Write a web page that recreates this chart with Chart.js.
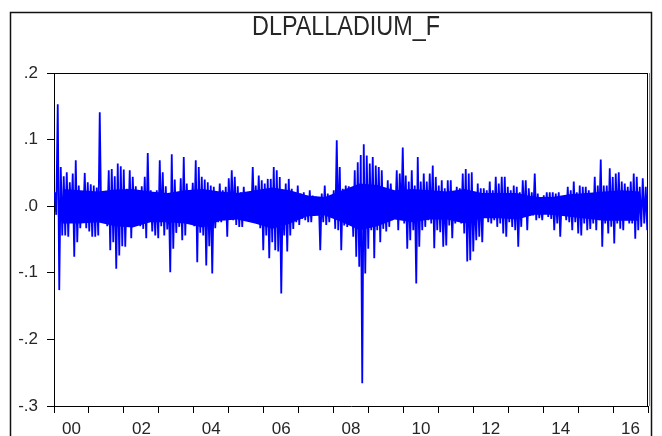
<!DOCTYPE html>
<html>
<head>
<meta charset="utf-8">
<script src="https://cdn.jsdelivr.net/npm/chart.js@4.4.1/dist/chart.umd.min.js"></script>
<style>
html,body{margin:0;padding:0;background:#fff;}
#wrap{width:662px;height:436px;position:relative;}
canvas{display:block;}
</style>
</head>
<body>
<div id="wrap"><canvas id="c" width="662" height="436"></canvas></div>
<script>
// ---- Data ----
const seriesTitle = 'DLPALLADIUM_F';
const firstYear = 2000;
const lastYear = 2017;           // end of the sample (end of 2016)
const yTickValues = [-0.3, -0.2, -0.1, 0.0, 0.1, 0.2];
const xLabelYears = [2000, 2002, 2004, 2006, 2008, 2010, 2012, 2014, 2016];

// Period highs / lows of the daily log returns, in consecutive sub-periods
const upper2000 = [.021,.153,.059,.045,.051,.036,.049,.069,.031,.016,.05,.036,.033,.031,.028,.141,.02,.018,.054,.056,.045,.064,.06,.055,.026,.054,.044,.03,.015,.03,.044,.08];
const lower2000 = [-.013,-.126,-.044,-.044,-.046,-.015,-.076,-.054,-.033,-.02,-.033,-.038,-.046,-.046,-.044,-.024,-.024,-.03,-.066,-.054,-.094,-.074,-.06,-.061,-.03,-.048,-.028,-.024,-.03,-.034,-.048,-.024];
const upper2003 = [.024,.016,.024,.069,.051,.03,.019,.078,.04,.017,.042,.074,.034,.022,.035,.069,.059,.044,.04,.036,.031,.029,.021,.034,.024,.029,.042,.054,.044,.03,.021,.029,.021];
const lower2003 = [-.038,-.044,-.048,-.03,-.044,-.035,-.099,-.064,-.04,-.031,-.051,-.044,-.021,-.019,-.03,-.084,-.04,-.044,-.089,-.06,-.101,-.033,-.024,-.024,-.021,-.046,-.02,-.021,-.028,-.031,-.031,-.019,-.02];
const upper2005 = [.021,.059,.031,.046,.039,.034,.041,.041,.059,.054,.044,.02,.034,.041,.026,.019,.031,.019,.021,.016,.024,.016,.014,.012,.019,.031,.019,.014,.024,.099,.059,.026,.031];
const lower2005 = [-.02,-.021,-.024,-.033,-.066,-.044,-.078,-.054,-.066,-.068,-.131,-.044,-.068,-.044,-.034,-.024,-.028,-.019,-.021,-.024,-.024,-.014,-.011,-.066,-.024,-.028,-.024,-.014,-.034,-.036,-.066,-.029,-.031];
const upper2008 = [.03,.026,.054,.066,.077,.093,.076,.064,.074,.061,.059,.054,.027,.039,.034,.021,.054,.049,.088,.046,.037,.054,.031,.074,.037,.049,.037,.049,.061,.044,.031,.039,.027,.039];
const lower2008 = [-.025,-.046,-.076,-.091,-.266,-.101,-.064,-.036,-.078,-.036,-.054,-.034,-.038,-.031,-.021,-.016,-.036,-.019,-.026,-.064,-.051,-.036,-.116,-.061,-.036,-.031,-.021,-.026,-.063,-.036,-.039,-.061,-.059,-.029];
const upper2011 = [.039,.02,.029,.027,.049,.056,.049,.051,.021,.034,.027,.027,.024,.037,.024,.044,.034,.044,.044,.029,.024,.031,.029,.021,.039,.039,.027,.021,.049,.019,.0065,.0165,.021];
const lower2011 = [-.048,-.026,-.014,-.026,-.041,-.083,-.081,-.068,-.051,-.046,-.054,-.016,-.024,-.026,-.021,-.031,-.026,-.041,-.046,-.024,-.031,-.036,-.061,-.031,-.016,-.036,-.014,-.014,-.021,-.018,-.021,-.011,-.016];
const upper2014 = [.021,.021,.019,.021,.014,.014,.029,.024,.037,.021,.031,.029,.029,.024,.019,.044,.031,.07,.031,.031,.057,.044,.049,.051,.037,.034,.029,.037,.049,.044,.029,.042,.029];
const lower2014 = [-.019,-.036,-.026,-.046,-.008,-.021,-.024,-.036,-.024,-.041,-.044,-.026,-.036,-.034,-.026,-.036,-.021,-.061,-.026,-.041,-.031,-.056,-.026,-.034,-.036,-.021,-.026,-.026,-.049,-.036,-.031,-.026,-.036];

// Half-yearly edges of the dense (solid) core of the returns, 2000H1 .. 2016H2
const coreUpper = [.026,.024,.022,.025,.026,.022,.02,.024,.026,.022,.02,.024,.028,.024,.016,.014,.024,.034,.032,.024,.026,.024,.022,.026,.02,.02,.02,.014,.014,.018,.02,.022,.024,.022];
const coreLower = [-.026,-.026,-.024,-.03,-.032,-.024,-.024,-.026,-.032,-.022,-.02,-.026,-.034,-.026,-.015,-.014,-.024,-.036,-.03,-.02,-.024,-.02,-.02,-.026,-.018,-.018,-.02,-.013,-.013,-.016,-.019,-.022,-.022,-.022];

// ---- Build the series (each sub-period gives its high then its low) ----
const highs = [].concat(upper2000, upper2003, upper2005, upper2008, upper2011, upper2014);
const lows  = [].concat(lower2000, lower2003, lower2005, lower2008, lower2011, lower2014);
const nPeriods = highs.length;
const span = (lastYear - firstYear) / nPeriods;
const points = [];
for (let i = 0; i < nPeriods; i++) {
  points.push({x: firstYear + (i + 0.25) * span, y: highs[i]});
  points.push({x: firstYear + (i + 0.75) * span, y: lows[i]});
}
const halfSpan = (lastYear - firstYear) / coreUpper.length;
const coreUpPts = coreUpper.map((v, k) => ({x: firstYear + (k + 0.5) * halfSpan, y: v}));
const coreLoPts = coreLower.map((v, k) => ({x: firstYear + (k + 0.5) * halfSpan, y: v}));

const FONT = '"Liberation Sans", Arial, "DejaVu Sans", sans-serif';
const TEXT = '#262626';
const BLUE = '#0000ff';

const framePlugin = {
  id: 'frame',
  beforeDraw(chart) {
    const ctx = chart.ctx;
    ctx.save();
    ctx.fillStyle = '#fff';
    ctx.fillRect(0, 0, chart.width, chart.height);
    ctx.strokeStyle = '#111';
    ctx.lineWidth = 1.5;
    ctx.strokeRect(10.5, 12.5, 641, 440);
    // title
    ctx.fillStyle = TEXT;
    ctx.font = '27px "Liberation Sans Narrow", "Arial Narrow", ' + FONT;
    ctx.textAlign = 'center';
    ctx.textBaseline = 'middle';
    const w = ctx.measureText(seriesTitle).width;
    const target = 188;
    ctx.translate(346, 28);
    ctx.scale(target / w, 1);
    ctx.fillText(seriesTitle, 0, 0);
    ctx.restore();
  },
  afterDraw(chart) {
    const a = chart.chartArea;
    const ctx = chart.ctx;
    ctx.save();
    ctx.strokeStyle = '#000';
    ctx.lineWidth = 1;
    ctx.beginPath();
    ctx.moveTo(a.left, Math.round(a.top) + 0.5);
    ctx.lineTo(a.right, Math.round(a.top) + 0.5);
    ctx.moveTo(Math.round(a.right) - 0.5, a.top);
    ctx.lineTo(Math.round(a.right) - 0.5, a.bottom);
    ctx.stroke();
    ctx.strokeStyle = '#888';
    ctx.beginPath();
    ctx.moveTo(Math.round(a.right) + 1.5, a.top);
    ctx.lineTo(Math.round(a.right) + 1.5, a.bottom);
    ctx.stroke();
    ctx.restore();
  }
};

new Chart(document.getElementById('c'), {
  type: 'line',
  data: {
    datasets: [{
      label: seriesTitle,
      data: points,
      borderColor: BLUE,
      borderWidth: 1.8,
      borderJoinStyle: 'bevel',
      pointRadius: 0,
      tension: 0,
      fill: false,
      order: 0
    }, {
      label: 'core upper',
      data: coreUpPts,
      borderWidth: 0,
      borderColor: BLUE,
      backgroundColor: BLUE,
      pointRadius: 0,
      tension: 0,
      fill: '+1',
      order: 1
    }, {
      label: 'core lower',
      data: coreLoPts,
      borderWidth: 0,
      borderColor: BLUE,
      backgroundColor: BLUE,
      pointRadius: 0,
      tension: 0,
      fill: false,
      order: 2
    }]
  },
  options: {
    responsive: false,
    animation: false,
    events: [],
    layout: { padding: { left: 0, right: 14, top: 73, bottom: 0 } },
    plugins: { legend: { display: false }, title: { display: false }, tooltip: { enabled: false } },
    scales: {
      x: {
        type: 'linear',
        min: firstYear,
        max: lastYear,
        afterBuildTicks(s) {
          const t = [];
          for (let y = firstYear; y <= lastYear; y++) t.push({ value: y });
          s.ticks = t;
        },
        afterFit(s) { s.height = 30; },
        grid: { drawOnChartArea: false, drawTicks: true, tickLength: 7, tickColor: '#000', tickWidth: 1 },
        border: { display: true, color: '#000', width: 1 },
        ticks: {
          autoSkip: false,
          maxRotation: 0,
          padding: 6,
          labelOffset: 17.5,
          color: TEXT,
          font: { family: FONT, size: 17 },
          callback: (v) => xLabelYears.includes(v) ? String(v).slice(2) : ''
        }
      },
      y: {
        min: yTickValues[0],
        max: yTickValues[yTickValues.length - 1],
        afterBuildTicks(s) { s.ticks = yTickValues.map(v => ({ value: v })); },
        afterFit(s) { s.width = 54; },
        grid: { drawOnChartArea: false, drawTicks: true, tickLength: 7, tickColor: '#000', tickWidth: 1 },
        border: { display: true, color: '#000', width: 1 },
        ticks: {
          padding: 9,
          color: TEXT,
          font: { family: FONT, size: 17 },
          callback: (v) => { const r = Math.round(v * 10); return (r < 0 ? '-' : '') + '.' + Math.abs(r); }
        }
      }
    }
  },
  plugins: [framePlugin]
});
</script>
</body>
</html>
